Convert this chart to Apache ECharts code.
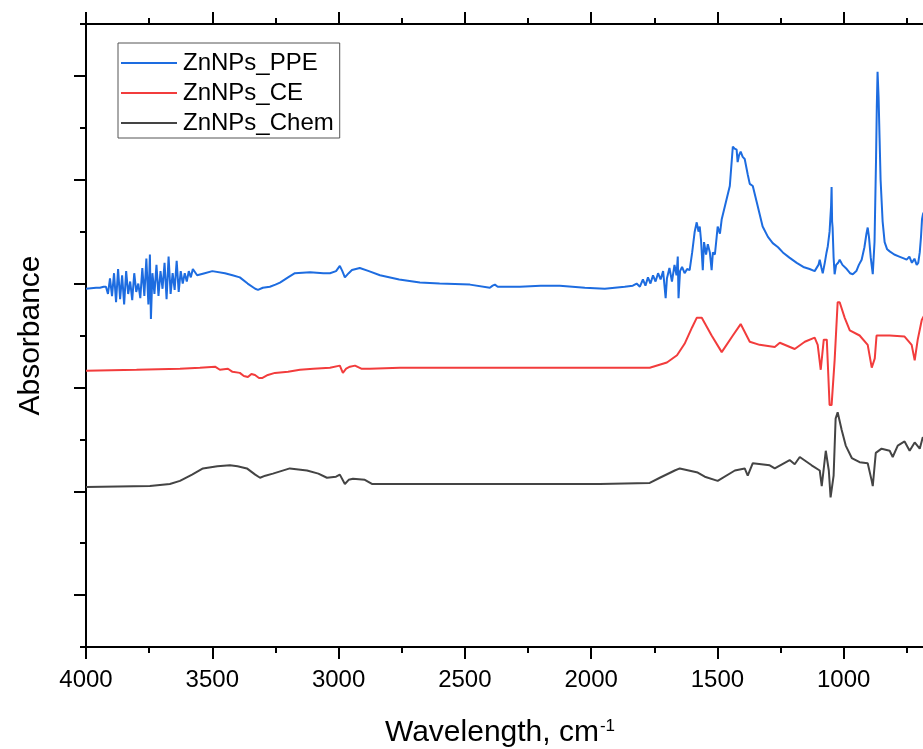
<!DOCTYPE html>
<html>
<head>
<meta charset="utf-8">
<script src="https://cdn.jsdelivr.net/npm/echarts@6/dist/echarts.min.js"></script>
<style>
  html, body { margin: 0; padding: 0; background: #fff; }
  #main { width: 923px; height: 749px; }
</style>
</head>
<body>
<div id="main"></div>
<script>
// FTIR spectra, values (wavenumber, offset absorbance)
var seriesNames = ['ZnNPs_PPE', 'ZnNPs_CE', 'ZnNPs_Chem'];
var seriesColors = ['#1d6ce0', '#f23c3c', '#444444'];

var ppeWn = [4000, 3960, 3945, 3930, 3921, 3913, 3905, 3897, 3889, 3881, 3873, 3865, 3857, 3849, 3841, 3833, 3825, 3817, 3809, 3801,
  3793, 3785, 3777, 3769, 3761, 3753, 3747, 3743, 3737, 3729, 3721, 3713, 3705, 3697, 3689, 3681, 3673, 3665, 3657, 3649,
  3641, 3633, 3625, 3617, 3609, 3601, 3593, 3585, 3577, 3560, 3530, 3500, 3450, 3420, 3391, 3360, 3330, 3319, 3300, 3272,
  3250, 3232, 3200, 3173, 3113, 3060, 3034, 3010, 2995, 2985, 2975, 2960, 2947, 2916, 2880, 2836, 2760, 2678, 2600, 2480,
  2401, 2390, 2381, 2370, 2282, 2200, 2124, 2025, 1946, 1867, 1835, 1820, 1807, 1795, 1785, 1775, 1765, 1755, 1745, 1735,
  1725, 1715, 1705, 1700, 1690, 1680, 1670, 1662, 1657, 1654, 1648, 1640, 1630, 1620, 1610, 1600, 1590, 1582, 1575, 1570,
  1565, 1558, 1553, 1545, 1538, 1530, 1523, 1518, 1510, 1503, 1499, 1490, 1483, 1470, 1451, 1439, 1432, 1424, 1420, 1414,
  1408, 1400, 1392, 1380, 1372, 1360, 1344, 1321, 1300, 1281, 1260, 1241, 1215, 1186, 1160, 1135, 1115, 1100, 1095, 1088,
  1083, 1075, 1068, 1063, 1056, 1050, 1048, 1046, 1044, 1040, 1036, 1030, 1022, 1016, 1005, 988, 975, 964, 950, 940,
  929, 918, 910, 905, 900, 893, 885, 878, 872, 869, 866, 862, 858, 854, 846, 838, 828, 818, 800, 780,
  760, 751, 740, 730, 720, 711, 705, 699, 694, 690, 686, 680];
var ppeAbs = [2.95, 2.96, 2.96, 2.97, 2.97, 2.90, 3.05, 2.88, 3.10, 2.82, 3.14, 2.85, 3.08, 2.80, 3.12, 2.90, 3.02, 2.84, 3.10, 2.92,
  3.00, 2.86, 3.15, 2.88, 3.24, 2.80, 3.28, 2.66, 3.10, 2.90, 3.18, 2.88, 3.12, 2.95, 3.20, 2.85, 3.26, 2.90, 3.10, 2.94,
  3.22, 2.92, 3.12, 3.00, 3.10, 3.02, 3.12, 3.06, 3.14, 3.08, 3.10, 3.12, 3.10, 3.08, 3.06, 3.00, 2.95, 2.94, 2.96, 2.97,
  2.99, 3.01, 3.06, 3.10, 3.11, 3.10, 3.10, 3.12, 3.17, 3.12, 3.06, 3.10, 3.13, 3.15, 3.12, 3.08, 3.04, 3.01, 3.00, 2.99,
  2.96, 2.98, 2.99, 2.97, 2.97, 2.98, 2.98, 2.96, 2.95, 2.97, 2.98, 3.00, 2.97, 3.04, 2.98, 3.06, 3.00, 3.08, 3.02, 3.10,
  3.04, 3.12, 2.86, 3.05, 3.15, 3.02, 3.18, 3.08, 3.26, 2.86, 3.12, 3.16, 3.10, 3.14, 3.13, 3.30, 3.50, 3.59, 3.50, 3.55,
  3.42, 3.13, 3.40, 3.28, 3.38, 3.30, 3.13, 3.30, 3.28, 3.45, 3.55, 3.48, 3.62, 3.75, 3.94, 4.32, 4.30, 4.29, 4.17, 4.24,
  4.27, 4.22, 4.20, 4.05, 3.96, 3.94, 3.78, 3.55, 3.45, 3.39, 3.35, 3.30, 3.25, 3.20, 3.16, 3.14, 3.12, 3.18, 3.23, 3.15,
  3.10, 3.20, 3.30, 3.36, 3.50, 3.75, 3.93, 3.60, 3.54, 3.25, 3.09, 3.18, 3.20, 3.23, 3.18, 3.14, 3.10, 3.09, 3.12, 3.18,
  3.23, 3.35, 3.48, 3.54, 3.45, 3.25, 3.09, 3.40, 4.20, 4.70, 5.04, 4.80, 4.40, 4.00, 3.60, 3.40, 3.33, 3.31, 3.28, 3.26,
  3.24, 3.23, 3.26, 3.20, 3.24, 3.18, 3.20, 3.30, 3.45, 3.62, 3.67, 3.70];

var ceWn = [4000, 3800, 3628, 3549, 3489, 3470, 3438, 3420, 3391, 3375, 3359, 3345, 3331, 3315, 3303, 3280, 3252, 3200, 3153, 3100,
  3034, 2995, 2983, 2970, 2955, 2935, 2910, 2876, 2757, 2361, 1966, 1768, 1700, 1660, 1630, 1600, 1582, 1562, 1523, 1483,
  1439, 1408, 1372, 1333, 1273, 1253, 1194, 1154, 1115, 1103, 1091, 1079, 1067, 1056, 1048, 1036, 1024, 1016, 996, 976,
  937, 905, 889, 877, 870, 818, 759, 731, 719, 707, 691, 680];
var ceAbs = [2.16, 2.17, 2.18, 2.19, 2.20, 2.17, 2.18, 2.15, 2.14, 2.11, 2.10, 2.13, 2.12, 2.09, 2.09, 2.12, 2.14, 2.15, 2.17, 2.18,
  2.19, 2.21, 2.14, 2.18, 2.20, 2.21, 2.18, 2.18, 2.19, 2.19, 2.19, 2.19, 2.24, 2.31, 2.42, 2.58, 2.67, 2.67, 2.50, 2.34,
  2.50, 2.61, 2.44, 2.41, 2.39, 2.43, 2.37, 2.44, 2.48, 2.41, 2.17, 2.46, 2.46, 1.83, 1.83, 2.26, 2.82, 2.82, 2.67, 2.55,
  2.50, 2.41, 2.19, 2.28, 2.50, 2.50, 2.49, 2.41, 2.26, 2.46, 2.65, 2.70];

var chemWn = [4000, 3747, 3668, 3628, 3580, 3537, 3480, 3430, 3400, 3363, 3330, 3311, 3290, 3260, 3193, 3125, 3080, 3046, 3010, 2995,
  2975, 2960, 2943, 2896, 2868, 2757, 2361, 1966, 1768, 1728, 1669, 1649, 1578, 1550, 1499, 1431, 1392, 1380, 1360, 1293,
  1273, 1214, 1194, 1174, 1127, 1095, 1087, 1071, 1059, 1052, 1040, 1032, 1024, 1008, 992, 968, 937, 905, 889, 885,
  873, 850, 818, 806, 786, 759, 739, 719, 699, 687, 680];
var chemAbs = [1.04, 1.05, 1.07, 1.10, 1.16, 1.22, 1.24, 1.25, 1.24, 1.22, 1.16, 1.13, 1.15, 1.17, 1.22, 1.20, 1.17, 1.13, 1.14, 1.16,
  1.07, 1.11, 1.12, 1.11, 1.07, 1.07, 1.07, 1.07, 1.08, 1.13, 1.20, 1.22, 1.18, 1.14, 1.10, 1.20, 1.22, 1.15, 1.27, 1.25,
  1.22, 1.30, 1.26, 1.33, 1.25, 1.20, 1.05, 1.39, 1.20, 0.94, 1.15, 1.70, 1.76, 1.59, 1.44, 1.32, 1.28, 1.27, 1.10, 1.05,
  1.37, 1.41, 1.39, 1.33, 1.44, 1.48, 1.39, 1.47, 1.41, 1.52, 1.50];

var majorYTicks = [0, 1, 2, 3, 4, 5];

function pairs(wn, ab) {
  return wn.map(function (w, i) { return [w, ab[i]]; });
}

var myChart = echarts.init(document.getElementById('main'));

var axisLineStyle = { color: '#000', width: 2 };
var tickStyle = { color: '#000', width: 2 };
var fontFamily = 'Liberation Sans, Arial, sans-serif';

var option = {
  animation: false,
  textStyle: { fontFamily: fontFamily },
  grid: { left: 86, top: 24, width: 884, bottom: 102, outerBoundsMode: 'none', containLabel: false },
  legend: {
    orient: 'vertical',
    left: 118,
    top: 43,
    padding: [8, 6, 3, 3],
    itemGap: 6,
    itemWidth: 56,
    itemHeight: 2,
    icon: 'rect',
    borderColor: '#555',
    borderWidth: 1,
    borderRadius: 0,
    textStyle: { fontSize: 24, color: '#000', lineHeight: 24, padding: [0, 0, 0, 1] },
    data: seriesNames
  },
  xAxis: [
    {
      type: 'value',
      position: 'bottom',
      inverse: true,
      min: 500,
      max: 4000,
      interval: 500,
      axisLine: { onZero: false, lineStyle: axisLineStyle },
      axisTick: { length: 12, lineStyle: tickStyle },
      minorTick: { show: true, splitNumber: 2, length: 6, lineStyle: tickStyle },
      splitLine: { show: false },
      axisLabel: {
        fontSize: 24, color: '#000', margin: 21,
        formatter: function (v) { return String(v); }
      },
      name: 'Wavelength, cm{sup|-1}',
      nameLocation: 'middle',
      nameGap: 71,
      nameTextStyle: {
        fontSize: 30,
        color: '#000',
        padding: [0, 56, 0, 0],
        rich: { sup: { fontSize: 17, verticalAlign: 'top', color: '#000', padding: [0, 0, 10, 1] } }
      }
    },
    {
      type: 'value',
      position: 'top',
      inverse: true,
      min: 500,
      max: 4000,
      interval: 500,
      axisLine: { onZero: false, lineStyle: axisLineStyle },
      axisTick: { length: 12, lineStyle: tickStyle },
      minorTick: { show: true, splitNumber: 2, length: 6, lineStyle: tickStyle },
      splitLine: { show: false },
      axisLabel: { show: false }
    }
  ],
  yAxis: [
    {
      type: 'value',
      position: 'left',
      min: -0.5,
      max: 5.5,
      interval: 0.5,
      axisLine: { show: true, onZero: false, lineStyle: axisLineStyle },
      axisTick: { show: true, length: 6, lineStyle: tickStyle },
      splitLine: { show: false },
      axisLabel: { show: false },
      name: 'Absorbance',
      nameLocation: 'middle',
      nameGap: 40,
      nameTextStyle: { fontSize: 30, color: '#000' }
    },
    {
      type: 'value',
      position: 'left',
      min: -0.5,
      max: 5.5,
      axisLine: { show: false, onZero: false },
      axisTick: { show: true, customValues: majorYTicks, length: 12, lineStyle: tickStyle },
      splitLine: { show: false },
      axisLabel: { show: false }
    }
  ],
  series: [
    { name: seriesNames[0], data: pairs(ppeWn, ppeAbs) },
    { name: seriesNames[1], data: pairs(ceWn, ceAbs) },
    { name: seriesNames[2], data: pairs(chemWn, chemAbs) }
  ].map(function (s, i) {
    s.type = 'line';
    s.symbol = 'none';
    s.xAxisIndex = 0;
    s.yAxisIndex = 0;
    s.color = seriesColors[i];
    s.lineStyle = { width: 2, color: seriesColors[i] };
    s.z = 3 - i;
    return s;
  })
};

myChart.setOption(option);
</script>
</body>
</html>
